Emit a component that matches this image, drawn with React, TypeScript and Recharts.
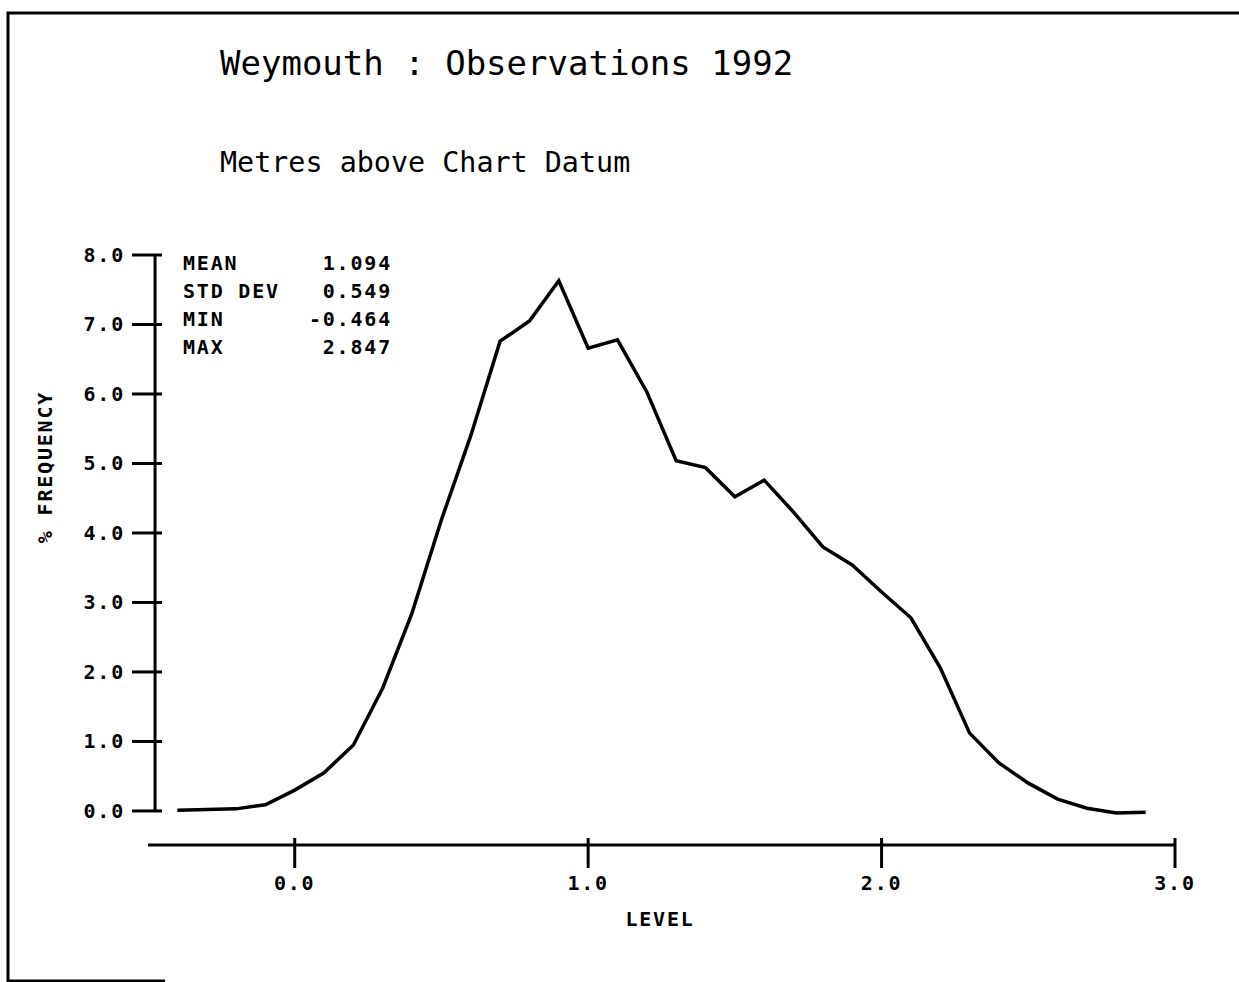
import React from 'react';
import { LineChart, Line, XAxis, YAxis, ReferenceLine } from 'recharts';

// level (m above chart datum) and % frequency
const levels = [
  -0.4, -0.3, -0.2, -0.1, 0.0, 0.1, 0.2, 0.3, 0.4, 0.5, 0.6, 0.7, 0.8, 0.9,
  1.0, 1.1, 1.2, 1.3, 1.4, 1.5, 1.6, 1.7, 1.8, 1.9, 2.0, 2.1, 2.2, 2.3, 2.4,
  2.5, 2.6, 2.7, 2.8, 2.9,
];
const frequency = [
  0.01, 0.02, 0.03, 0.09, 0.3, 0.55, 0.95, 1.77, 2.85, 4.19, 5.4, 6.76, 7.05, 7.63,
  6.66, 6.78, 6.03, 5.04, 4.94, 4.52, 4.76, 4.3, 3.8, 3.54, 3.15, 2.78, 2.06, 1.12, 0.69,
  0.4, 0.17, 0.04, -0.03, -0.02,
];
const xTicks = [0, 1, 2, 3];
const yTicks = [0, 1, 2, 3, 4, 5, 6, 7, 8];
const statLabels = ['MEAN', 'STD DEV', 'MIN', 'MAX'];
const statValues = ['1.094', '0.549', '-0.464', '2.847'];

const data = levels.map((l, i) => ({ level: l, freq: frequency[i] }));

const W = 1239;
const H = 982;
const AXIS_X = 155; // drawn y axis
const AXIS_Y = 845; // x axis line
const small = { fontFamily: '"DejaVu Sans Mono", monospace', fontWeight: 700, fontSize: 20, letterSpacing: 1.8 };

const YTick = (props: any) => {
  const { y, payload } = props;
  return (
    <g>
      <line x1={AXIS_X - 23} x2={AXIS_X + 7} y1={y} y2={y} stroke="#000" strokeWidth={3} />
      <text x={AXIS_X - 30} y={y} dy={7} textAnchor="end" fill="#000" style={small}>
        {payload.value.toFixed(1)}
      </text>
    </g>
  );
};

const XTick = (props: any) => {
  const { x, payload } = props;
  return (
    <g>
      <line x1={x} x2={x} y1={AXIS_Y - 7} y2={AXIS_Y + 23} stroke="#000" strokeWidth={3} />
      <text x={x} y={AXIS_Y + 45} textAnchor="middle" fill="#000" style={small}>
        {payload.value.toFixed(1)}
      </text>
    </g>
  );
};

export default function App() {
  return (
    <div style={{ position: 'fixed', left: 0, top: 0, width: W, height: H, background: '#fff', overflow: 'hidden' }}>
      <LineChart width={W} height={H} data={data} margin={{ top: 255, right: 64, bottom: 37, left: 88 }}>
        <XAxis
          dataKey="level"
          type="number"
          domain={[-0.5, 3]}
          ticks={xTicks}
          interval={0}
          height={100}
          axisLine={{ stroke: '#000', strokeWidth: 3 }}
          tickLine={false}
          tick={<XTick />}
          allowDataOverflow
        />
        <YAxis
          type="number"
          domain={[-0.49, 8]}
          ticks={yTicks}
          interval={0}
          width={60}
          axisLine={false}
          tickLine={false}
          tick={<YTick />}
          allowDataOverflow
        />
        <ReferenceLine
          segment={[{ x: -0.476, y: 0 }, { x: -0.476, y: 8 }]}
          stroke="#000"
          strokeWidth={3}
        />
        <Line type="linear" dataKey="freq" stroke="#000" strokeWidth={3.5} dot={false} isAnimationActive={false} />
      </LineChart>

      <svg width={W} height={H} style={{ position: 'absolute', left: 0, top: 0, pointerEvents: 'none' }}>
        {/* page frame */}
        <polyline points={`${W},13 8,13 8,981 165,981`} fill="none" stroke="#000" strokeWidth={3} />
        <text x={220} y={75} fill="#000" style={{ fontFamily: '"DejaVu Sans Mono", monospace', fontSize: 34 }}>
          Weymouth : Observations 1992
        </text>
        <text x={220} y={172} fill="#000" style={{ fontFamily: '"DejaVu Sans Mono", monospace', fontSize: 28.4 }}>
          Metres above Chart Datum
        </text>
        {statLabels.map((s, i) => (
          <g key={s}>
            <text x={183} y={270 + i * 28} fill="#000" style={small}>{s}</text>
            <text x={392} y={270 + i * 28} textAnchor="end" fill="#000" style={small}>{statValues[i]}</text>
          </g>
        ))}
        <text x={660} y={926} textAnchor="middle" fill="#000" style={small}>LEVEL</text>
        <text x={52} y={467} textAnchor="middle" transform="rotate(-90, 52, 467)" fill="#000" style={small}>
          % FREQUENCY
        </text>
      </svg>
    </div>
  );
}
